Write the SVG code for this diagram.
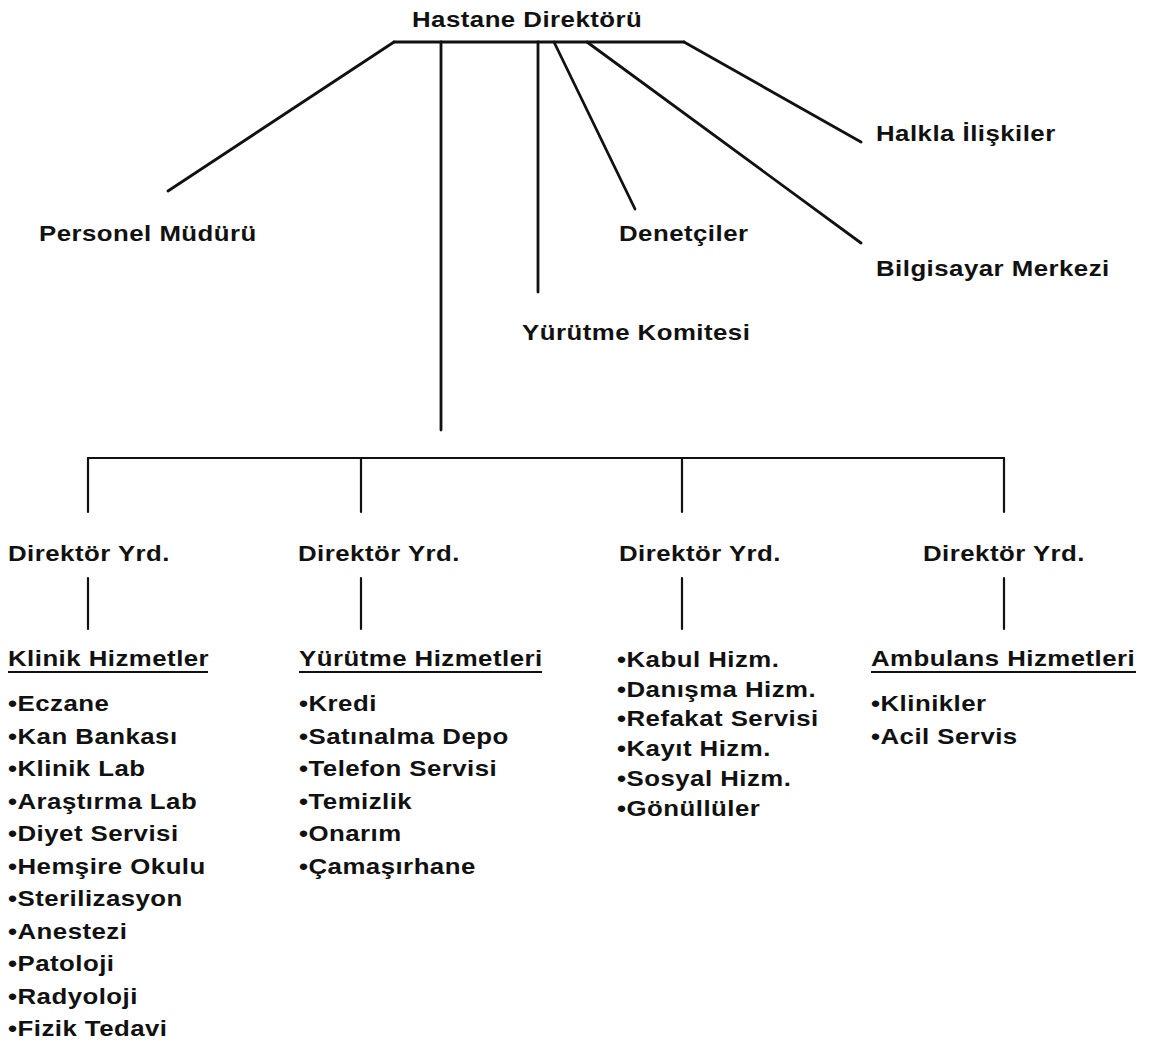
<svg xmlns="http://www.w3.org/2000/svg" width="1158" height="1041" viewBox="0 0 1158 1041">
<style>
text{font-family:"Liberation Sans",Arial,sans-serif;font-weight:bold;font-size:21.5px;letter-spacing:0.4px;fill:#111}
.c line{stroke:#111;stroke-width:2.2;fill:none;stroke-linecap:round}
.c .t{stroke-width:2.8}
.ul{stroke:#111;stroke-width:2}
</style>
<rect width="1158" height="1041" fill="#fff"/>
<g class="c" id="connectors">
<line class="t" x1="394" y1="42" x2="684" y2="42"/>
<line class="t" x1="394" y1="42" x2="168" y2="191"/>
<line class="t" x1="441" y1="42" x2="441" y2="430"/>
<line class="t" x1="538" y1="42" x2="538" y2="292"/>
<line class="t" x1="554" y1="42" x2="635" y2="209"/>
<line class="t" x1="587" y1="42" x2="861" y2="243"/>
<line class="t" x1="684" y1="42" x2="861" y2="142"/>
<line x1="88" y1="458" x2="1004" y2="458"/>
<line x1="88" y1="458" x2="88" y2="512"/>
<line x1="361" y1="458" x2="361" y2="512"/>
<line x1="682" y1="458" x2="682" y2="512"/>
<line x1="1004" y1="458" x2="1004" y2="512"/>
<line x1="88" y1="578" x2="88" y2="629"/>
<line x1="361" y1="578" x2="361" y2="629"/>
<line x1="682" y1="578" x2="682" y2="629"/>
<line x1="1004" y1="578" x2="1004" y2="629"/>
</g>
<g id="hastane-direktoru"><text transform="translate(412,27) scale(1.2,1)">Hastane Direktörü</text></g>
<g id="personel-muduru"><text transform="translate(39,241) scale(1.2,1)">Personel Müdürü</text></g>
<g id="denetciler"><text transform="translate(619,241) scale(1.2,1)">Denetçiler</text></g>
<g id="yurutme-komitesi"><text transform="translate(522,340) scale(1.2,1)">Yürütme Komitesi</text></g>
<g id="halkla-iliskiler"><text transform="translate(876,141) scale(1.2,1)">Halkla İlişkiler</text></g>
<g id="bilgisayar-merkezi"><text transform="translate(876,276) scale(1.2,1)">Bilgisayar Merkezi</text></g>
<g id="dy1"><text transform="translate(8,561) scale(1.2,1)">Direktör Yrd.</text></g>
<g id="dy2"><text transform="translate(298,561) scale(1.2,1)">Direktör Yrd.</text></g>
<g id="dy3"><text transform="translate(619,561) scale(1.2,1)">Direktör Yrd.</text></g>
<g id="dy4"><text transform="translate(923,561) scale(1.2,1)">Direktör Yrd.</text></g>
<g id="klinik-hizmetler">
<text transform="translate(8,666) scale(1.2,1)">Klinik Hizmetler</text>
<line class="ul" x1="8" y1="672" x2="208" y2="672"/>
<text transform="translate(8,711) scale(1.2,1)">•Eczane</text>
<text transform="translate(8,743.5) scale(1.2,1)">•Kan Bankası</text>
<text transform="translate(8,776) scale(1.2,1)">•Klinik Lab</text>
<text transform="translate(8,808.5) scale(1.2,1)">•Araştırma Lab</text>
<text transform="translate(8,841) scale(1.2,1)">•Diyet Servisi</text>
<text transform="translate(8,873.5) scale(1.2,1)">•Hemşire Okulu</text>
<text transform="translate(8,906) scale(1.2,1)">•Sterilizasyon</text>
<text transform="translate(8,938.5) scale(1.2,1)">•Anestezi</text>
<text transform="translate(8,971) scale(1.2,1)">•Patoloji</text>
<text transform="translate(8,1003.5) scale(1.2,1)">•Radyoloji</text>
<text transform="translate(8,1036) scale(1.2,1)">•Fizik Tedavi</text>
</g>
<g id="yurutme-hizmetleri">
<text transform="translate(299,666) scale(1.2,1)">Yürütme Hizmetleri</text>
<line class="ul" x1="299" y1="672" x2="542" y2="672"/>
<text transform="translate(299,711) scale(1.2,1)">•Kredi</text>
<text transform="translate(299,743.5) scale(1.2,1)">•Satınalma Depo</text>
<text transform="translate(299,776) scale(1.2,1)">•Telefon Servisi</text>
<text transform="translate(299,808.5) scale(1.2,1)">•Temizlik</text>
<text transform="translate(299,841) scale(1.2,1)">•Onarım</text>
<text transform="translate(299,873.5) scale(1.2,1)">•Çamaşırhane</text>
</g>
<g id="hasta-hizmetleri">
<text transform="translate(617,667) scale(1.2,1)">•Kabul Hizm.</text>
<text transform="translate(617,696.7) scale(1.2,1)">•Danışma Hizm.</text>
<text transform="translate(617,726.4) scale(1.2,1)">•Refakat Servisi</text>
<text transform="translate(617,756.1) scale(1.2,1)">•Kayıt Hizm.</text>
<text transform="translate(617,785.8) scale(1.2,1)">•Sosyal Hizm.</text>
<text transform="translate(617,815.5) scale(1.2,1)">•Gönüllüler</text>
</g>
<g id="ambulans-hizmetleri">
<text transform="translate(871,666) scale(1.2,1)">Ambulans Hizmetleri</text>
<line class="ul" x1="871" y1="672" x2="1136" y2="672"/>
<text transform="translate(871,711) scale(1.2,1)">•Klinikler</text>
<text transform="translate(871,743.5) scale(1.2,1)">•Acil Servis</text>
</g>
</svg>
